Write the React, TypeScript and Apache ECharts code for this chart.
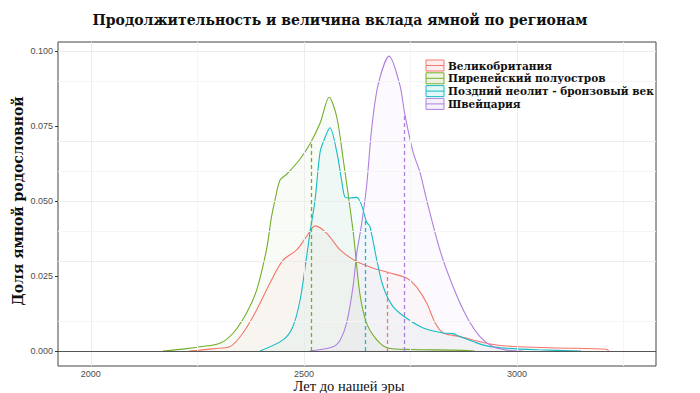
import React, { useEffect, useRef } from "react";
import * as echarts from "echarts";

const seriesNames = [
  "Великобритания",
  "Пиренейский полуостров",
  "Поздний неолит - бронзовый век",
  "Швейцария",
];
const seriesColors = ["#F3776C", "#74AD2A", "#16BCC6", "#AE80DD"];

const gbYears = [2230, 2256, 2290, 2326, 2357, 2389, 2420, 2451, 2483, 2506, 2526, 2553, 2585, 2624, 2662, 2702, 2741, 2764, 2788, 2808, 2827, 2866, 2913, 2952, 3007, 3100, 3210, 3215];
const gbDensity = [0, 0.0003, 0.0008, 0.0014, 0.006, 0.0137, 0.0226, 0.0303, 0.0337, 0.0381, 0.0417, 0.0393, 0.0337, 0.0298, 0.0277, 0.026, 0.0243, 0.0214, 0.016, 0.0093, 0.006, 0.0048, 0.0031, 0.002, 0.0014, 0.001, 0.0006, 0];

const ibYears = [2169, 2225, 2256, 2303, 2334, 2365, 2389, 2412, 2424, 2432, 2444, 2460, 2491, 2514, 2538, 2559, 2577, 2592, 2604, 2617, 2631, 2647, 2671, 2697, 2750, 2850, 2900];
const ibDensity = [0, 0.0008, 0.0014, 0.0026, 0.006, 0.0126, 0.0203, 0.0337, 0.0448, 0.0503, 0.057, 0.059, 0.064, 0.069, 0.076, 0.0846, 0.078, 0.064, 0.052, 0.038, 0.0193, 0.0093, 0.0037, 0.001, 0.0005, 0.0003, 0];

const lnYears = [2397, 2451, 2474, 2491, 2503, 2514, 2526, 2538, 2549, 2561, 2577, 2589, 2596, 2608, 2624, 2635, 2647, 2655, 2671, 2686, 2709, 2741, 2780, 2827, 2850, 2866, 2898, 2929, 2976, 3050, 3150];
const lnDensity = [0, 0.0037, 0.0081, 0.017, 0.0281, 0.0393, 0.0503, 0.0664, 0.071, 0.0744, 0.0664, 0.0564, 0.0514, 0.051, 0.0512, 0.0487, 0.043, 0.0414, 0.0303, 0.0214, 0.0148, 0.0109, 0.0077, 0.006, 0.0058, 0.0048, 0.0031, 0.0017, 0.0009, 0.0004, 0];

const chYears = [2514, 2568, 2585, 2600, 2615, 2624, 2635, 2647, 2659, 2674, 2700, 2725, 2737, 2756, 2772, 2788, 2819, 2850, 2882, 2913, 2944, 2976, 3014];
const chDensity = [0, 0.0014, 0.0037, 0.0093, 0.0213, 0.0327, 0.042, 0.055, 0.0742, 0.0887, 0.0983, 0.0887, 0.0787, 0.0663, 0.0597, 0.0503, 0.0337, 0.0214, 0.0114, 0.0048, 0.0014, 0.0003, 0];

const meanYears = [2695, 2516, 2645, 2735];
const meanHeights = [0.0262, 0.069, 0.0437, 0.0787];

const xTickLabels = [2000, 2500, 3000];
const xGridMajor = [2000, 2500, 3000];
const xGridMinor = [2250, 2750, 3250];
const yTickLabels = [0, 0.025, 0.05, 0.075, 0.1];
const yGridMinor = [0.0125, 0.0375, 0.0625, 0.0875];

const titleText = "Продолжительность и величина вклада ямной по регионам";
const xTitle = "Лет до нашей эры";
const yTitle = "Доля ямной родословной";

const allYears = [gbYears, ibYears, lnYears, chYears];
const allDensity = [gbDensity, ibDensity, lnDensity, chDensity];

function hexToRgba(hex: string, a: number) {
  const n = parseInt(hex.slice(1), 16);
  return `rgba(${(n >> 16) & 255},${(n >> 8) & 255},${n & 255},${a})`;
}

export default function App() {
  const ref = useRef<HTMLDivElement>(null);
  useEffect(() => {
    document.body.style.margin = "0";
    if (!ref.current) return;
    const chart = echarts.init(ref.current, null, { renderer: "svg" });
    const series: any[] = seriesNames.map((name, i) => ({
      name,
      type: "line",
      data: allYears[i].map((y, j) => [y, allDensity[i][j]]),
      smooth: 0.3,
      showSymbol: false,
      symbol: "none",
      lineStyle: { color: seriesColors[i], width: 1.1 },
      itemStyle: { color: seriesColors[i] },
      areaStyle: { color: hexToRgba(seriesColors[i], 0.06), origin: 0 },
      z: 3,
      markLine: {
        silent: true,
        symbol: "none",
        label: { show: false },
        lineStyle: { color: seriesColors[i], type: [4, 3], width: 1.3 },
        data: [[
          { coord: [meanYears[i], 0] },
          { coord: [meanYears[i], meanHeights[i]] },
        ]],
      },
    }));
    series.unshift({
      name: "grid",
      type: "line",
      data: [],
      silent: true,
      z: 1,
      markLine: {
        silent: true,
        symbol: "none",
        label: { show: false },
        data: [
          ...xGridMajor.map((v) => ({ xAxis: v, lineStyle: { color: "#ececec", width: 1, type: "solid" } })),
          ...xGridMinor.map((v) => ({ xAxis: v, lineStyle: { color: "#f5f5f5", width: 1, type: "solid" } })),
          ...yTickLabels.slice(1).map((v) => ({ yAxis: v, lineStyle: { color: "#ececec", width: 1, type: "solid" } })),
          ...yGridMinor.map((v) => ({ yAxis: v, lineStyle: { color: "#f5f5f5", width: 1, type: "solid" } })),
        ],
      },
    });
    series.push({
      name: "zero",
      type: "line",
      data: [],
      silent: true,
      z: 10,
      markLine: {
        silent: true,
        symbol: "none",
        label: { show: false },
        data: [{ yAxis: 0, lineStyle: { color: "#555", width: 1, type: "solid" } }],
      },
    });

    const legendX = 426;
    const legendY = 60;
    const rowH = 12.8;
    const legendGraphics: any[] = [];
    seriesNames.forEach((n, i) => {
      const y = legendY + i * rowH;
      legendGraphics.push(
        {
          type: "rect",
          shape: { x: legendX, y, width: 18, height: 11 },
          style: { fill: hexToRgba(seriesColors[i], 0.12), stroke: seriesColors[i], lineWidth: 1 },
          z: 20,
        },
        {
          type: "line",
          shape: { x1: legendX, y1: y + 5.5, x2: legendX + 18, y2: y + 5.5 },
          style: { stroke: seriesColors[i], lineWidth: 1 },
          z: 20,
        },
        {
          type: "text",
          x: legendX + 22,
          y: y + 5.5,
          z: 20,
          style: {
            text: n,
            fontFamily: "DejaVu Serif",
            fontWeight: "bold",
            fontSize: 10.5,
            fill: "#111",
            textAlign: "left",
            textVerticalAlign: "middle",
          },
        }
      );
    });

    chart.setOption({
      animation: false,
      grid: {
        left: 58,
        top: 42,
        right: 44,
        bottom: 27,
        show: true,
        borderColor: "#444",
        borderWidth: 1,
        backgroundColor: "transparent",
      },
      xAxis: {
        type: "value",
        min: 1923,
        max: 3326,
        axisLine: { show: false },
        splitLine: { show: false },
        axisTick: { show: true, length: 3, lineStyle: { color: "#333" }, customValues: xTickLabels },
        axisLabel: {
          customValues: xTickLabels,
          color: "#4d4d4d",
          fontFamily: "Liberation Sans",
          fontSize: 9,
          margin: 3,
          formatter: (v: number) => String(v),
        },
      },
      yAxis: {
        type: "value",
        min: -0.005,
        max: 0.103,
        axisLine: { show: false },
        splitLine: { show: false },
        axisTick: { show: true, length: 3, lineStyle: { color: "#333" }, customValues: yTickLabels },
        axisLabel: {
          customValues: yTickLabels,
          color: "#4d4d4d",
          fontFamily: "Liberation Sans",
          fontSize: 9,
          margin: 5,
          formatter: (v: number) => v.toFixed(3),
        },
      },
      graphic: [
        ...legendGraphics,
        {
          type: "text",
          x: 340,
          y: 20,
          style: {
            text: titleText,
            fontFamily: "DejaVu Serif",
            fontWeight: "bold",
            fontSize: 14,
            fill: "#111",
            textAlign: "center",
            textVerticalAlign: "middle",
          },
        },
        {
          type: "text",
          x: 349,
          y: 386,
          style: {
            text: xTitle,
            fontFamily: "Liberation Serif",
            fontSize: 14.5,
            fill: "#111",
            textAlign: "center",
            textVerticalAlign: "middle",
          },
        },
        {
          type: "text",
          x: 18,
          y: 201,
          rotation: Math.PI / 2,
          style: {
            text: yTitle,
            fontFamily: "DejaVu Serif",
            fontWeight: "bold",
            fontSize: 14,
            fill: "#111",
            textAlign: "center",
            textVerticalAlign: "middle",
          },
        },
      ],
      series,
    });
    return () => chart.dispose();
  }, []);
  return <div ref={ref} style={{ width: 700, height: 393 }} />;
}
